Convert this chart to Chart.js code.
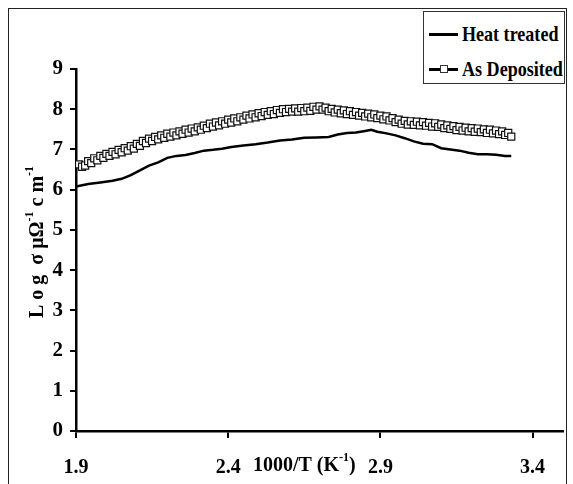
<!DOCTYPE html>
<html lang="en">
<head>
<meta charset="UTF-8">
<title>Log conductivity vs 1000/T</title>
<script src="https://cdn.jsdelivr.net/npm/chart.js@4"></script>
<style>
    body { margin: 0; background: #fff; overflow: hidden; }
    .wrap { position: relative; width: 573px; height: 484px; overflow: hidden; }
    .frame {
        position: absolute; left: 8px; top: 8px; width: 559px; height: 500px;
        border: 1.5px solid #222; box-sizing: border-box;
    }
    canvas { position: absolute; left: 0; top: 0; }
    .legend {
        position: absolute; left: 423px; top: 11px; width: 142px; height: 73px;
        border: 1px solid #333; background: #fff; box-sizing: border-box;
        font: bold 21px "Liberation Serif", "Times New Roman", serif; color: #000;
    }
    .legend-item { position: absolute; left: 5px; height: 24px; display: flex; align-items: center; }
    .swatch { position: relative; width: 29px; height: 3px; background: #000; margin-right: 4px; flex: none; }
    .swatch .mk {
        position: absolute; left: 11px; top: -3px; width: 8px; height: 8px;
        border: 1px solid #333; background: #fff; box-sizing: border-box;
    }
    .legend-item span.txt { display: inline-block; transform: scaleX(0.86); transform-origin: left center; white-space: nowrap; }
</style>
</head>
<body>
<div class="wrap">
    <canvas id="chart" width="573" height="484"></canvas>
    <div class="frame"></div>
    <div class="legend" id="legend"></div>
</div>

<script>
    // tick labels
    const xTicks = [1.9, 2.4, 2.9, 3.4];
    const yTicks = [0, 1, 2, 3, 4, 5, 6, 7, 8, 9];

    // series names
    const seriesNames = ['Heat treated', 'As Deposited'];

    // Heat treated
    const heatX = [1.90, 1.94, 1.98, 2.02, 2.05, 2.08, 2.11, 2.14, 2.17, 2.20, 2.23, 2.26, 2.29, 2.32, 2.35, 2.38,
        2.41, 2.45, 2.49, 2.53, 2.57, 2.61, 2.65, 2.69, 2.73, 2.76, 2.79, 2.82, 2.85, 2.87, 2.89, 2.92,
        2.95, 2.98, 3.01, 3.04, 3.07, 3.10, 3.13, 3.16, 3.19, 3.22, 3.25, 3.28, 3.31, 3.33];
    const heatY = [6.08, 6.14, 6.18, 6.22, 6.27, 6.36, 6.48, 6.60, 6.68, 6.79, 6.84, 6.86, 6.91, 6.97, 6.99, 7.02,
        7.06, 7.10, 7.13, 7.17, 7.22, 7.25, 7.29, 7.30, 7.31, 7.37, 7.41, 7.42, 7.46, 7.49, 7.44, 7.40,
        7.35, 7.28, 7.20, 7.14, 7.13, 7.03, 7.00, 6.97, 6.92, 6.88, 6.88, 6.87, 6.84, 6.84];

    // As Deposited
    const depX = [
        1.91, 1.92, 1.93, 1.94, 1.95, 1.96, 1.97, 1.98, 1.99, 2.00,
        2.01, 2.02, 2.03, 2.04, 2.05, 2.06, 2.07, 2.08, 2.09, 2.10,
        2.11, 2.12, 2.13, 2.14, 2.15, 2.16, 2.17, 2.18, 2.19, 2.20,
        2.21, 2.22, 2.23, 2.24, 2.25, 2.26, 2.27, 2.28, 2.29, 2.30,
        2.31, 2.32, 2.33, 2.34, 2.35, 2.36, 2.37, 2.38, 2.39, 2.40,
        2.41, 2.42, 2.43, 2.44, 2.45, 2.46, 2.47, 2.48, 2.49, 2.50,
        2.51, 2.52, 2.53, 2.54, 2.55, 2.56, 2.57, 2.58, 2.59, 2.60,
        2.61, 2.62, 2.63, 2.64, 2.65, 2.66, 2.67, 2.68, 2.69, 2.70,
        2.71, 2.72, 2.73, 2.74, 2.75, 2.76, 2.77, 2.78, 2.79, 2.80,
        2.81, 2.82, 2.83, 2.84, 2.85, 2.86, 2.87, 2.88, 2.89, 2.90,
        2.91, 2.92, 2.93, 2.94, 2.95, 2.96, 2.97, 2.98, 2.99, 3.00,
        3.01, 3.02, 3.03, 3.04, 3.05, 3.06, 3.07, 3.08, 3.09, 3.10,
        3.11, 3.12, 3.13, 3.14, 3.15, 3.16, 3.17, 3.18, 3.19, 3.20,
        3.21, 3.22, 3.23, 3.24, 3.25, 3.26, 3.27, 3.28, 3.29, 3.30,
        3.31, 3.32, 3.33];
    const depY = [
        6.63, 6.57, 6.60, 6.71, 6.66, 6.78, 6.73, 6.84, 6.79, 6.89,
        6.84, 6.94, 6.88, 6.99, 6.93, 7.03, 6.97, 7.08, 7.02, 7.14,
        7.09, 7.21, 7.16, 7.27, 7.21, 7.31, 7.25, 7.35, 7.29, 7.39,
        7.32, 7.42, 7.35, 7.45, 7.39, 7.49, 7.42, 7.52, 7.45, 7.55,
        7.49, 7.59, 7.53, 7.64, 7.57, 7.67, 7.60, 7.70, 7.64, 7.74,
        7.67, 7.77, 7.70, 7.80, 7.74, 7.84, 7.77, 7.87, 7.80, 7.90,
        7.83, 7.93, 7.86, 7.95, 7.88, 7.98, 7.91, 8.00, 7.93, 8.01,
        7.94, 8.02, 7.94, 8.03, 7.95, 8.04, 7.96, 8.06, 7.99, 8.07,
        7.99, 8.04, 7.95, 8.01, 7.92, 7.99, 7.90, 7.97, 7.88, 7.95,
        7.86, 7.93, 7.84, 7.91, 7.82, 7.89, 7.80, 7.87, 7.78, 7.84,
        7.75, 7.82, 7.72, 7.78, 7.68, 7.74, 7.64, 7.71, 7.62, 7.70,
        7.61, 7.69, 7.60, 7.68, 7.59, 7.66, 7.57, 7.65, 7.56, 7.62,
        7.53, 7.60, 7.51, 7.58, 7.48, 7.56, 7.47, 7.54, 7.45, 7.53,
        7.44, 7.52, 7.43, 7.50, 7.41, 7.49, 7.40, 7.47, 7.38, 7.45,
        7.36, 7.41, 7.32];

    const xTitle = [{ t: '1000/T (K' }, { t: '-1', sup: true }, { t: ')' }];
    const yTitle = [{ t: 'L o g  σ μΩ' }, { t: '-1', sup: true }, { t: ' c m' }, { t: '-1', sup: true }];

    const serif = '"Liberation Serif", "Times New Roman", serif';

    function drawRich(ctx, parts, cx, cy, size) {
        const big = 'bold ' + size + 'px ' + serif;
        const small = 'bold ' + Math.round(size * 0.62) + 'px ' + serif;
        let total = 0;
        parts.forEach(p => { ctx.font = p.sup ? small : big; total += ctx.measureText(p.t).width; });
        let x = cx - total / 2;
        ctx.textBaseline = 'middle';
        ctx.textAlign = 'left';
        parts.forEach(p => {
            ctx.font = p.sup ? small : big;
            ctx.fillText(p.t, x, p.sup ? cy - size * 0.38 : cy);
            x += ctx.measureText(p.t).width;
        });
    }

    const axisTitles = {
        id: 'axisTitles',
        afterDraw(chart) {
            const { ctx, scales } = chart;
            ctx.save();
            ctx.fillStyle = '#000';
            const cx = (scales.x.getPixelForValue(xTicks[1]) + scales.x.getPixelForValue(xTicks[2])) / 2;
            drawRich(ctx, xTitle, cx, 466, 20);
            ctx.translate(38, 242);
            ctx.rotate(-Math.PI / 2);
            drawRich(ctx, yTitle, 0, 0, 20);
            ctx.restore();
        }
    };

    const ctx = document.getElementById('chart').getContext('2d');
    new Chart(ctx, {
        type: 'line',
        data: {
            datasets: [{
                label: seriesNames[0],
                data: heatX.map((x, i) => ({ x: x, y: heatY[i] })),
                borderColor: '#000',
                borderWidth: 2.5,
                pointRadius: 0,
                tension: 0
            }, {
                label: seriesNames[1],
                data: depX.map((x, i) => ({ x: x, y: depY[i] })),
                borderColor: '#111',
                borderWidth: 2,
                pointStyle: 'rect',
                pointRadius: 5,
                pointBorderWidth: 1.2,
                pointBorderColor: '#111',
                pointBackgroundColor: '#fff',
                tension: 0
            }]
        },
        options: {
            responsive: false,
            animation: false,
            devicePixelRatio: 1,
            layout: { padding: { left: 0, top: 69, right: 10, bottom: 0 } },
            plugins: {
                legend: { display: false },
                tooltip: { enabled: false }
            },
            scales: {
                x: {
                    type: 'linear',
                    min: 1.9,
                    max: 3.5,
                    afterBuildTicks: s => { s.ticks = xTicks.map(v => ({ value: v })); },
                    afterFit: s => { s.height = 53; },
                    border: { color: '#000', width: 2.5 },
                    grid: { drawOnChartArea: false, color: '#000', lineWidth: 2, tickLength: 7 },
                    ticks: {
                        color: '#000',
                        padding: 18,
                        font: { family: serif, size: 20, weight: 'bold' },
                        callback: v => v.toFixed(1)
                    }
                },
                y: {
                    min: 0,
                    max: 9,
                    afterBuildTicks: s => { s.ticks = yTicks.map(v => ({ value: v })); },
                    afterFit: s => { s.width = 76; },
                    border: { color: '#000', width: 2.5 },
                    grid: { drawOnChartArea: false, color: '#000', lineWidth: 2, tickLength: 6 },
                    ticks: {
                        color: '#000',
                        padding: 7,
                        font: { family: serif, size: 21, weight: 'bold' }
                    }
                }
            }
        },
        plugins: [axisTitles]
    });

    // legend box built from the series names
    const legend = document.getElementById('legend');
    seriesNames.forEach((name, i) => {
        const item = document.createElement('div');
        item.className = 'legend-item';
        item.style.top = (i === 0 ? 10 : 45) + 'px';
        const sw = document.createElement('div');
        sw.className = 'swatch';
        if (i === 1) {
            const mk = document.createElement('div');
            mk.className = 'mk';
            sw.appendChild(mk);
        }
        const txt = document.createElement('span');
        txt.className = 'txt';
        txt.textContent = name;
        item.appendChild(sw);
        item.appendChild(txt);
        legend.appendChild(item);
    });
</script>
</body>
</html>
